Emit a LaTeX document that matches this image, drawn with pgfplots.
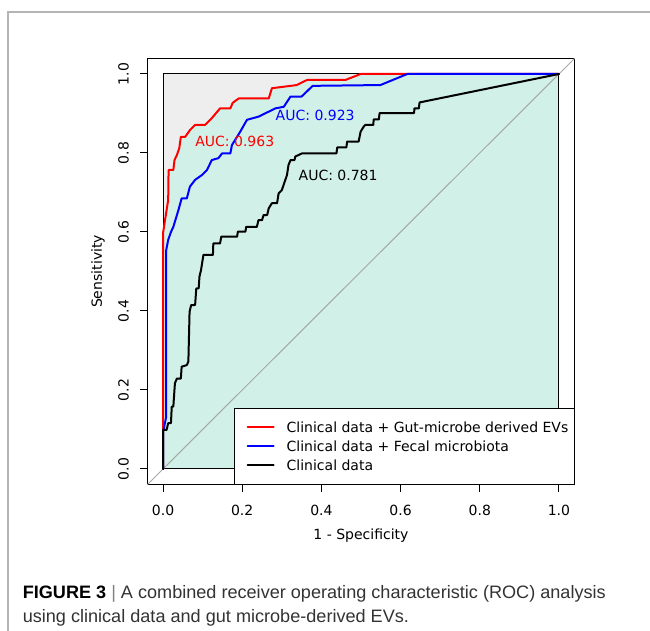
\documentclass[border=0pt]{standalone}
\usepackage{graphicx}
\usepackage{pgfplots}
\pgfplotsset{compat=1.18}
\usepackage{fontspec}
\setmainfont{DejaVu Sans}
\newfontfamily\capfont{Liberation Sans}
\definecolor{aucfill}{HTML}{D1F0E8}
\definecolor{maxfill}{HTML}{EEEEEE}
\definecolor{framegray}{HTML}{B4B4B4}
\definecolor{diaggray}{HTML}{A8A8A8}
\definecolor{captext}{HTML}{333333}
\newcommand{\chartsize}{\fontsize{10.5pt}{12.6pt}\selectfont}
\newcommand{\capsize}{\fontsize{13.5pt}{15pt}\selectfont}
\newsavebox\capA
\newlength\capAw

\begin{document}
\sbox\capA{\capfont\capsize\textbf{FIGURE 3} \textcolor{gray}{|} A combined receiver operating characteristic (ROC) analysis}%
\setlength\capAw{\wd\capA}%
\pgfmathsetmacro\capsx{437.25/\capAw}%
\begin{tikzpicture}
\begin{scope}[x=0.75pt,y=0.75pt]
\path[use as bounding box] (0,0) rectangle (650,631);
\draw[framegray, line width=1.1pt] (8,0) -- (8,619) -- (650,619);
\end{scope}

\begin{axis}[
  at={(110.4pt,109.65pt)}, anchor=south west,
  scale only axis, width=320.7pt, height=319.95pt,
  xmin=-0.04, xmax=1.04, ymin=-0.04, ymax=1.04,
  axis line style={black, line width=0.75pt},
  every tick/.style={black, line width=0.75pt},
  tick align=outside, tick pos=left, major tick length=5.25pt,
  xtick={0,0.2,0.4,0.6,0.8,1}, ytick={0,0.2,0.4,0.6,0.8,1},
  xticklabels={0.0,0.2,0.4,0.6,0.8,1.0},
  yticklabels={0.0,0.2,0.4,0.6,0.8,1.0},
  ticklabel style={font=\chartsize},
  xticklabel style={anchor=north, inner sep=0pt, yshift=-9.5pt},
  yticklabel style={anchor=south, inner sep=0pt, xshift=-8.25pt, rotate=90},
  legend cell align=left,
  legend style={at={(1,0)}, anchor=south east, draw=black, line width=0.75pt,
    fill=white, font=\chartsize, inner xsep=4.5pt, inner ysep=7.2pt,
    row sep=0pt, column sep=9pt,
    nodes={inner sep=0pt, text height=10.875pt, text depth=3.375pt}},
  legend image code/.code={\path (0pt,0pt); \draw[#1, line width=1.5pt] (4.5pt,0pt) -- (24pt,0pt);},
]
\addplot[fill=maxfill, draw=none, forget plot] coordinates {(0,0) (1,0) (1,1) (0,1) (0,0)};
\addplot[fill=aucfill, draw=none, forget plot] coordinates {
(0,0) (0,0.597) (0.005,0.630) (0.013,0.681) (0.014,0.757) (0.026,0.757) (0.029,0.782)
(0.035,0.795) (0.041,0.812) (0.045,0.841) (0.056,0.841) (0.068,0.858) (0.081,0.871)
(0.106,0.871) (0.123,0.888) (0.144,0.913) (0.170,0.913) (0.176,0.927) (0.191,0.938)
(0.267,0.938) (0.275,0.964) (0.338,0.972) (0.364,0.985) (0.461,0.985) (0.499,1) (1,1)
(1,0) (0,0)};
\addplot[black, line width=0.75pt, forget plot] coordinates {(0,0) (1,0) (1,1) (0,1) (0,0)};
\addplot[diaggray, line width=0.75pt, forget plot] coordinates {(-0.04,-0.04) (1.04,1.04)};

\addplot[red, line width=1.5pt, line join=round, line cap=round] coordinates {
(0,0) (0,0.597) (0.005,0.630) (0.013,0.681) (0.014,0.757) (0.026,0.757) (0.029,0.782)
(0.035,0.795) (0.041,0.812) (0.045,0.841) (0.056,0.841) (0.068,0.858) (0.081,0.871)
(0.106,0.871) (0.123,0.888) (0.144,0.913) (0.170,0.913) (0.176,0.927) (0.191,0.938)
(0.267,0.938) (0.275,0.964) (0.338,0.972) (0.364,0.985) (0.461,0.985) (0.499,1) (1,1)};
\addlegendentry{Clinical data + Gut-microbe derived EVs}

\addplot[blue, line width=1.5pt, line join=round, line cap=round] coordinates {
(0,0) (0,0.095) (0.003,0.107) (0.008,0.132) (0.008,0.554) (0.013,0.580) (0.020,0.600)
(0.026,0.613) (0.039,0.656) (0.047,0.685) (0.060,0.685) (0.068,0.715) (0.081,0.732)
(0.098,0.744) (0.111,0.757) (0.123,0.782) (0.140,0.787) (0.149,0.799) (0.170,0.799)
(0.174,0.820) (0.195,0.854) (0.212,0.884) (0.241,0.892) (0.284,0.913) (0.305,0.917)
(0.322,0.943) (0.350,0.943) (0.378,0.970) (0.549,0.972) (0.617,1) (1,1)};
\addlegendentry{Clinical data + Fecal microbiota}

\addplot[black, line width=1.5pt, line join=round, line cap=round] coordinates {
(0,0) (0,0.099) (0.009,0.099) (0.013,0.116) (0.020,0.116) (0.022,0.158) (0.026,0.158)
(0.030,0.217) (0.035,0.229) (0.045,0.229) (0.047,0.259) (0.060,0.263) (0.064,0.272)
(0.067,0.398) (0.071,0.415) (0.081,0.415) (0.084,0.457) (0.090,0.457) (0.092,0.487)
(0.096,0.504) (0.102,0.542) (0.126,0.542) (0.127,0.571) (0.144,0.571) (0.147,0.588)
(0.187,0.588) (0.189,0.601) (0.208,0.601) (0.210,0.613) (0.237,0.613) (0.241,0.630)
(0.250,0.630) (0.254,0.643) (0.263,0.643) (0.267,0.660) (0.275,0.673) (0.288,0.673)
(0.292,0.698) (0.300,0.706) (0.313,0.744) (0.317,0.770) (0.322,0.782) (0.332,0.782)
(0.334,0.791) (0.351,0.799) (0.438,0.799) (0.440,0.814) (0.463,0.814) (0.465,0.829)
(0.494,0.829) (0.499,0.854) (0.507,0.867) (0.511,0.871) (0.531,0.871) (0.532,0.885)
(0.545,0.885) (0.547,0.901) (0.634,0.901) (0.635,0.913) (0.646,0.913) (0.648,0.928) (1,1)};
\addlegendentry{Clinical data}

\node[anchor=west, inner sep=0pt, text=red, font=\chartsize] at (axis cs:0.081,0.830) {AUC: 0.963};
\node[anchor=west, inner sep=0pt, text=blue, font=\chartsize] at (axis cs:0.284,0.895) {AUC: 0.923};
\node[anchor=west, inner sep=0pt, text=black, font=\chartsize] at (axis cs:0.342,0.742) {AUC: 0.781};
\end{axis}

\begin{scope}[x=0.75pt,y=0.75pt]
\node[anchor=base, inner sep=0pt, font=\chartsize] at (361,91.5) {1 - Specificity};
\node[anchor=center, inner sep=0pt, rotate=90, font=\chartsize] at (98,359.5) {Sensitivity};
\node[anchor=base west, inner sep=0pt, text=captext] at (22.5,32) {\scalebox{\capsx}[1]{\capfont\capsize\textcolor{black}{\textbf{FIGURE 3}} \textcolor{gray}{|} A combined receiver operating characteristic (ROC) analysis}};
\node[anchor=base west, inner sep=0pt, text=captext] at (22.5,8) {\scalebox{\capsx}[1]{\capfont\capsize using clinical data and gut microbe-derived EVs.}};
\end{scope}
\end{tikzpicture}
\end{document}
